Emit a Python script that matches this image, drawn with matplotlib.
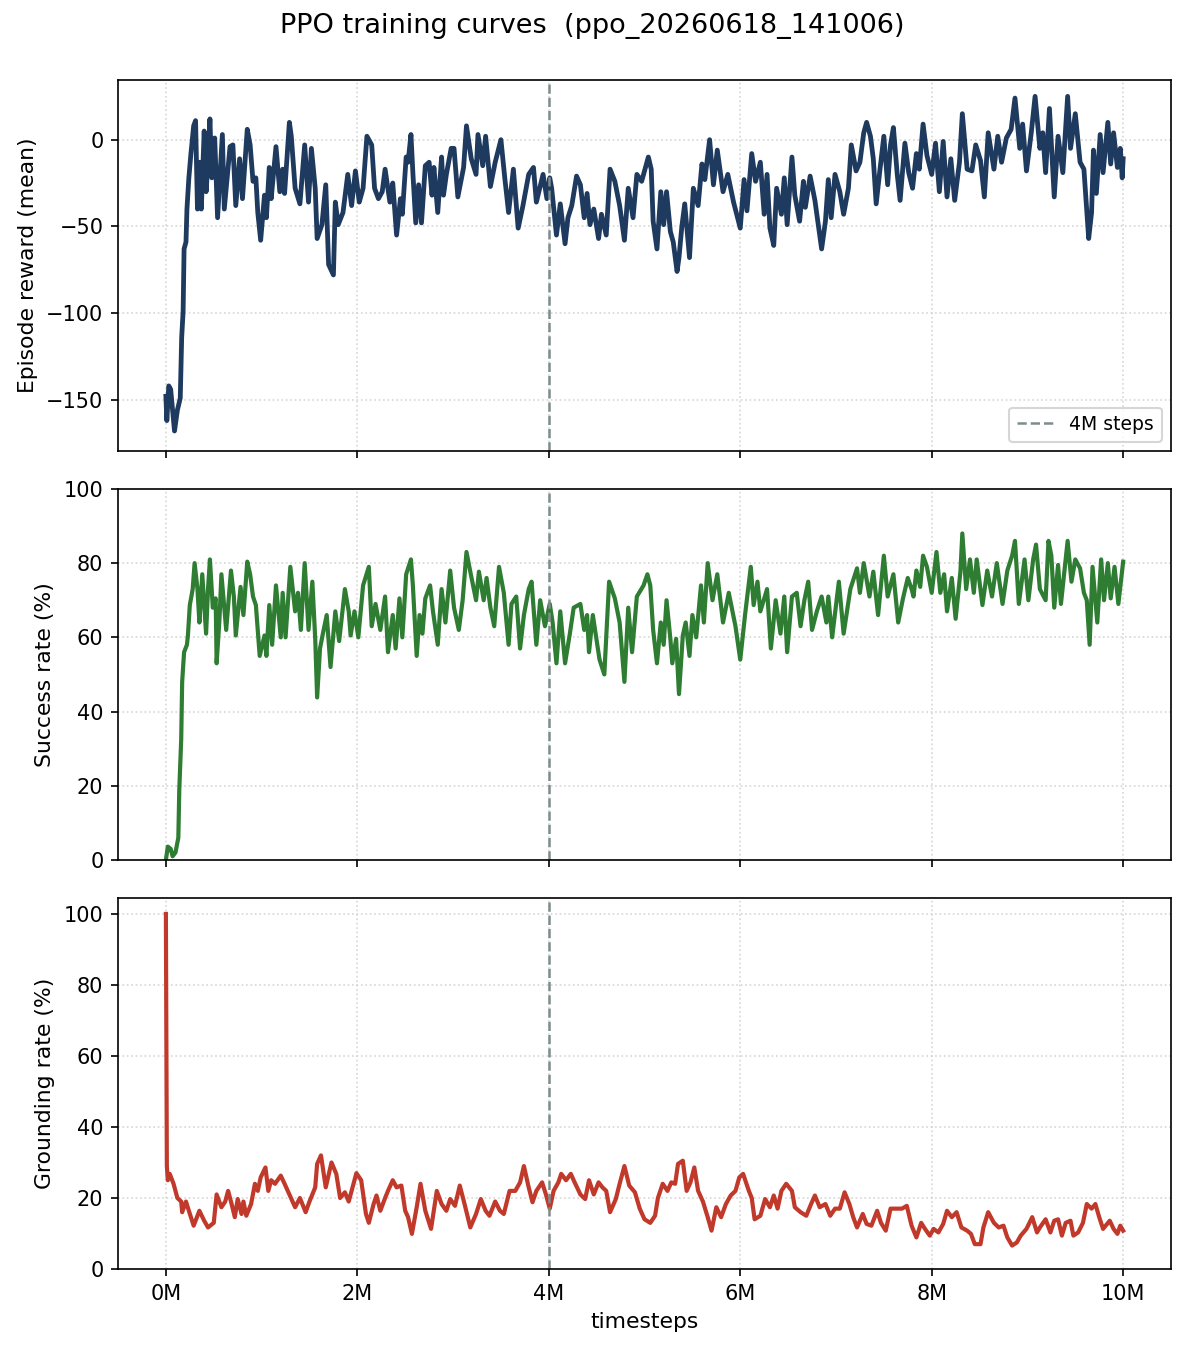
import matplotlib
matplotlib.use("Agg")
import matplotlib.pyplot as plt
from matplotlib.ticker import FuncFormatter

# ---- data (timesteps in millions) ----
reward_t = [0.00, 0.01, 0.03, 0.05, 0.09, 0.12, 0.15, 0.165, 0.18, 0.19, 0.21, 0.22, 0.24, 0.26, 0.29, 0.31,
            0.33, 0.35, 0.37, 0.40, 0.42, 0.44, 0.46, 0.48, 0.51, 0.54, 0.59, 0.61, 0.64, 0.67, 0.70, 0.73,
            0.77, 0.80, 0.85, 0.88, 0.91, 0.94, 0.96, 0.99, 1.03, 1.05, 1.08, 1.10, 1.15, 1.19, 1.22, 1.24,
            1.29, 1.31, 1.35, 1.40, 1.45, 1.49, 1.52, 1.56, 1.58, 1.63, 1.67, 1.70, 1.75, 1.77, 1.80, 1.85,
            1.90, 1.94, 1.98, 2.02, 2.06, 2.10, 2.15, 2.18, 2.22, 2.26, 2.29, 2.34, 2.37, 2.41, 2.45, 2.47,
            2.51, 2.53, 2.56, 2.58, 2.61, 2.64, 2.67, 2.71, 2.75, 2.78, 2.80, 2.84, 2.88, 2.90, 2.93, 2.98,
            3.01, 3.05, 3.11, 3.14, 3.19, 3.24, 3.26, 3.31, 3.34, 3.39, 3.44, 3.50, 3.54, 3.58, 3.63, 3.68,
            3.73, 3.79, 3.84, 3.87, 3.94, 3.98, 4.01, 4.03, 4.08, 4.12, 4.17, 4.20, 4.24, 4.29, 4.33, 4.37,
            4.40, 4.43, 4.47, 4.52, 4.55, 4.60, 4.64, 4.69, 4.74, 4.79, 4.83, 4.88, 4.92, 4.97, 5.04, 5.07,
            5.09, 5.13, 5.17, 5.20, 5.23, 5.27, 5.30, 5.34, 5.36, 5.39, 5.42, 5.47, 5.51, 5.56, 5.60, 5.63,
            5.68, 5.72, 5.76, 5.82, 5.87, 5.93, 6.00, 6.04, 6.07, 6.12, 6.16, 6.21, 6.25, 6.28, 6.31, 6.35,
            6.38, 6.43, 6.46, 6.49, 6.54, 6.57, 6.62, 6.66, 6.68, 6.73, 6.78, 6.85, 6.89, 6.92, 6.95, 6.99,
            7.04, 7.08, 7.13, 7.16, 7.21, 7.25, 7.29, 7.32, 7.36, 7.39, 7.42, 7.46, 7.50, 7.54, 7.57, 7.60,
            7.64, 7.67, 7.72, 7.76, 7.80, 7.84, 7.87, 7.91, 7.95, 8.00, 8.04, 8.08, 8.12, 8.16, 8.20, 8.24,
            8.29, 8.32, 8.37, 8.42, 8.46, 8.51, 8.55, 8.59, 8.65, 8.69, 8.73, 8.78, 8.83, 8.87, 8.92, 8.95,
            8.99, 9.04, 9.08, 9.13, 9.16, 9.19, 9.23, 9.28, 9.32, 9.37, 9.42, 9.45, 9.50, 9.55, 9.59, 9.64,
            9.67, 9.69, 9.72, 9.76, 9.79, 9.84, 9.87, 9.90, 9.94, 9.97, 9.99, 10.00]
reward_v = [-148, -162, -142, -144, -168, -156, -149, -114, -99, -63, -59, -40, -22, -9, 8, 11,
            -40, -13, -40, 5, -30, -13, 12, -22, 1, -45, 3, -40, -22, -4, -3, -38,
            -11, -34, 6, -3, -24, -22, -42, -58, -32, -45, -16, -34, -4, -30, -17, -31,
            10, 2, -28, -37, -3, -36, -5, -28, -57, -49, -26, -72, -78, -36, -49, -42,
            -20, -38, -18, -36, -28, 2, -3, -28, -34, -30, -17, -36, -25, -55, -34, -43,
            -10, -13, 3, -19, -48, -26, -48, -15, -13, -32, -16, -42, -10, -32, -20, -5,
            -5, -33, -16, 8, -11, -20, 3, -15, 2, -27, -13, 0, -22, -42, -17, -51,
            -38, -20, -16, -36, -20, -34, -22, -28, -55, -37, -60, -45, -38, -21, -26, -45,
            -31, -49, -40, -57, -43, -55, -17, -24, -38, -58, -28, -45, -20, -24, -10, -17,
            -47, -63, -30, -49, -30, -53, -59, -76, -68, -50, -37, -68, -28, -38, -14, -23,
            0, -26, -6, -30, -20, -36, -51, -23, -41, -8, -24, -13, -43, -20, -51, -61,
            -28, -43, -22, -49, -10, -32, -47, -24, -39, -21, -35, -63, -47, -23, -45, -20,
            -30, -43, -28, -3, -18, -13, 4, 10, 2, -11, -37, -17, 2, -26, -3, 7,
            -20, -35, -2, -19, -28, -8, -17, 9, -9, -20, -2, -30, -1, -33, -11, -35,
            -13, 15, -17, -18, -3, -12, -33, 4, -17, 2, -13, 1, 6, 24, -5, 9,
            -18, 4, 25, -5, 4, -19, 18, -33, 2, -19, 25, -5, 15, -13, -17, -57,
            -42, -6, -31, 3, -19, 10, -14, 4, -16, -5, -22, -11]

success_t = [0.00, 0.02, 0.05, 0.07, 0.10, 0.13, 0.14, 0.16, 0.17, 0.19, 0.22, 0.23, 0.25, 0.28, 0.30, 0.33,
             0.35, 0.38, 0.42, 0.44, 0.46, 0.49, 0.52, 0.53, 0.56, 0.58, 0.63, 0.68, 0.71, 0.73, 0.78, 0.81,
             0.85, 0.88, 0.91, 0.94, 0.98, 1.03, 1.05, 1.08, 1.11, 1.15, 1.20, 1.22, 1.25, 1.30, 1.35, 1.38,
             1.41, 1.45, 1.49, 1.53, 1.56, 1.58, 1.61, 1.64, 1.68, 1.72, 1.77, 1.81, 1.87, 1.91, 1.93, 1.97,
             2.01, 2.06, 2.12, 2.15, 2.19, 2.24, 2.29, 2.32, 2.37, 2.40, 2.44, 2.47, 2.51, 2.56, 2.58, 2.62,
             2.65, 2.68, 2.71, 2.76, 2.79, 2.84, 2.88, 2.92, 2.97, 3.01, 3.06, 3.10, 3.14, 3.18, 3.24, 3.27,
             3.32, 3.35, 3.39, 3.43, 3.48, 3.53, 3.58, 3.61, 3.66, 3.70, 3.74, 3.79, 3.82, 3.87, 3.91, 3.96,
             4.01, 4.04, 4.08, 4.12, 4.17, 4.22, 4.26, 4.33, 4.37, 4.40, 4.42, 4.46, 4.53, 4.58, 4.63, 4.69,
             4.74, 4.79, 4.83, 4.87, 4.92, 4.99, 5.03, 5.06, 5.09, 5.13, 5.17, 5.20, 5.23, 5.27, 5.29, 5.33,
             5.36, 5.40, 5.43, 5.47, 5.50, 5.54, 5.59, 5.62, 5.66, 5.71, 5.76, 5.82, 5.88, 5.95, 6.00, 6.05,
             6.11, 6.14, 6.18, 6.21, 6.28, 6.32, 6.37, 6.42, 6.46, 6.49, 6.54, 6.59, 6.63, 6.67, 6.71, 6.75,
             6.80, 6.85, 6.90, 6.92, 6.96, 7.03, 7.08, 7.15, 7.22, 7.25, 7.29, 7.35, 7.39, 7.44, 7.50, 7.54,
             7.60, 7.65, 7.70, 7.75, 7.79, 7.81, 7.84, 7.88, 7.91, 7.95, 8.00, 8.05, 8.09, 8.13, 8.16, 8.21,
             8.25, 8.30, 8.32, 8.36, 8.40, 8.44, 8.47, 8.53, 8.58, 8.63, 8.68, 8.74, 8.79, 8.84, 8.87, 8.91,
             8.97, 9.01, 9.06, 9.09, 9.13, 9.19, 9.22, 9.25, 9.28, 9.32, 9.35, 9.42, 9.46, 9.50, 9.55, 9.59,
             9.62, 9.65, 9.68, 9.73, 9.77, 9.80, 9.84, 9.87, 9.91, 9.95, 9.98, 10.00]
success_v = [0, 3.6, 3, 1, 2, 6, 19, 32.5, 48, 56, 58, 60.5, 68.7, 73, 80, 73,
             64, 77, 61, 73, 81, 68, 70.5, 53, 65, 77, 62, 78, 71, 60.5, 73.6, 66,
             80.4, 77, 71, 68.7, 55, 60.5, 55, 68.7, 58, 74, 60, 72, 60, 79, 67, 72,
             62, 80, 62, 75, 59.6, 43.8, 57, 61, 66, 52, 67, 59, 73, 67, 60.5, 67,
             60, 74, 79, 63, 69, 62, 71, 56, 66, 57, 70.5, 60, 77, 81, 74, 55,
             66, 61, 70.5, 74, 67, 58, 73, 64, 78, 68, 62, 70, 83, 77.7, 70, 77.7,
             70, 76, 68, 63, 79, 72, 58, 69, 71, 57, 66, 73, 75, 58, 70, 63,
             69, 64, 53, 67, 53, 61, 68, 69, 62, 66, 56, 66, 54, 50, 75, 70.5,
             64, 48, 68, 56, 71, 74, 77, 74, 62, 53, 64, 58, 70, 59.6, 53, 59.6,
             44.7, 60.5, 64, 55, 66, 60, 74, 64, 80, 70, 77, 64, 72, 63, 54, 66,
             79, 68.7, 75, 67, 73, 57, 70, 61, 71, 56, 71, 72, 63, 70, 75, 62,
             67, 71, 64, 71, 60, 75, 61, 73, 78.6, 72, 80, 71, 77.7, 66, 82, 71,
             77, 64, 70.5, 76, 73, 71, 78, 73.6, 82, 79, 72, 83, 72, 77, 67, 76,
             65, 77.7, 88, 73, 81, 72, 81, 68.7, 78, 71, 80, 69, 78, 82, 86, 69,
             81, 70, 81, 85, 73, 70, 86, 82, 68, 79.5, 69, 86, 75, 81, 78.6, 72,
             70, 58, 79, 64, 81, 70, 80, 70.5, 79, 69, 76, 80.4]

ground_t = [0.00, 0.01, 0.02, 0.04, 0.08, 0.12, 0.16, 0.17, 0.21, 0.24, 0.29, 0.35, 0.40, 0.44, 0.50, 0.53,
            0.58, 0.62, 0.65, 0.68, 0.72, 0.75, 0.79, 0.81, 0.84, 0.89, 0.93, 0.96, 0.99, 1.04, 1.07, 1.10,
            1.14, 1.20, 1.24, 1.29, 1.35, 1.40, 1.46, 1.50, 1.56, 1.58, 1.62, 1.67, 1.73, 1.78, 1.82, 1.87,
            1.91, 1.94, 1.99, 2.04, 2.09, 2.12, 2.17, 2.20, 2.24, 2.29, 2.32, 2.37, 2.41, 2.46, 2.50, 2.53,
            2.57, 2.62, 2.66, 2.71, 2.77, 2.83, 2.88, 2.93, 2.97, 3.02, 3.07, 3.12, 3.18, 3.24, 3.29, 3.34,
            3.38, 3.44, 3.49, 3.53, 3.59, 3.65, 3.70, 3.74, 3.79, 3.83, 3.87, 3.93, 3.97, 4.01, 4.05, 4.10,
            4.13, 4.18, 4.23, 4.27, 4.33, 4.38, 4.42, 4.47, 4.52, 4.56, 4.60, 4.64, 4.70, 4.74, 4.79, 4.84,
            4.90, 4.95, 5.00, 5.06, 5.11, 5.14, 5.19, 5.24, 5.28, 5.32, 5.35, 5.40, 5.44, 5.48, 5.52, 5.56,
            5.61, 5.66, 5.70, 5.75, 5.80, 5.85, 5.90, 5.95, 5.99, 6.03, 6.09, 6.12, 6.15, 6.21, 6.26, 6.31,
            6.35, 6.39, 6.43, 6.48, 6.54, 6.57, 6.63, 6.69, 6.74, 6.78, 6.83, 6.89, 6.94, 6.99, 7.04, 7.09,
            7.14, 7.18, 7.22, 7.28, 7.32, 7.37, 7.43, 7.47, 7.52, 7.57, 7.63, 7.69, 7.74, 7.79, 7.84, 7.89,
            7.93, 7.98, 8.02, 8.07, 8.12, 8.16, 8.21, 8.26, 8.31, 8.37, 8.41, 8.45, 8.51, 8.54, 8.59, 8.65,
            8.70, 8.75, 8.79, 8.84, 8.89, 8.93, 8.99, 9.05, 9.10, 9.13, 9.19, 9.24, 9.28, 9.32, 9.36, 9.40,
            9.45, 9.48, 9.53, 9.58, 9.62, 9.67, 9.71, 9.75, 9.79, 9.86, 9.90, 9.94, 9.97, 10.00]
ground_v = [100, 29, 25, 26.8, 24, 20, 19, 16, 19, 16.4, 12.2, 16.4, 13.6, 11.7, 13, 21,
            17.4, 19, 22, 19, 14.6, 19.7, 15.5, 19, 15, 18.3, 24, 22, 25.8, 28.6, 22, 25,
            24, 26.3, 24, 21, 17.4, 20, 16, 19, 23, 29.6, 32, 23, 30, 26.8, 20, 21.6,
            19, 22, 27, 25, 15.5, 13, 18.3, 20.7, 16.4, 20, 22, 25, 23, 23.5, 16.4, 14.6,
            9.9, 17.4, 24, 16.4, 11.3, 22, 18.3, 16.4, 19.7, 17.8, 23.5, 18.3, 11.7, 15.5, 19.7, 16.4,
            15, 19, 16.4, 15.5, 22, 22, 24.4, 29, 23, 18.8, 22, 24.4, 21, 17, 22, 24.4,
            26.8, 25, 26.8, 24.4, 21, 19.7, 25, 21, 24.4, 23, 22, 16, 19.7, 24, 29, 23.5,
            21.6, 17, 14, 13, 15, 20, 24, 22, 24.4, 24, 29.6, 30.5, 22, 24.4, 28.6, 22,
            19, 14.6, 10.8, 17.4, 14.6, 18.3, 20.7, 22, 25.8, 26.8, 22, 20, 14, 15, 19.7, 17.4,
            20.7, 17, 22, 24, 22, 17.4, 16, 15, 18.3, 20.7, 17.4, 18.3, 15, 17, 17, 21.6,
            18.3, 14.6, 11.7, 15.5, 12.7, 12.2, 16.4, 13, 10.8, 17, 17, 17, 17.8, 12.2, 8.9, 13,
            11.3, 9.4, 11.3, 10.3, 12.7, 16.4, 14.6, 16, 11.7, 10.8, 9.9, 7, 7, 11.7, 16, 13,
            11.7, 12.2, 8.9, 6.6, 7.5, 9.4, 11.3, 14.6, 10.3, 11.7, 14, 10.3, 13.6, 14, 9.4, 13,
            13.6, 9.4, 10.3, 13, 18.3, 17, 18.3, 14.6, 11.3, 13.6, 11.3, 9.9, 12.2, 10.8]

marker_step = 4.0
tick_positions = [0, 2, 4, 6, 8, 10]

fig, axes = plt.subplots(3, 1, sharex=True, figsize=(7.9, 8.987), dpi=150)
fig.subplots_adjust(left=0.0996, right=0.9882, top=0.9407, bottom=0.0586, hspace=0.1024)

series = [
    (reward_t, reward_v, "#1f3a5f", 2.3, "Episode reward (mean)"),
    (success_t, success_v, "#2e7d32", 2.0, "Success rate (%)"),
    (ground_t, ground_v, "#c0392b", 2.0, "Grounding rate (%)"),
]

for ax, (t, v, c, lw, lab) in zip(axes, series):
    ax.plot(t, v, color=c, linewidth=lw)
    ax.axvline(marker_step, color="#7f8c8d", linestyle="--", linewidth=1.2, label="4M steps")
    ax.set_ylabel(lab, fontsize=10.5)
    ax.grid(True, linestyle=":", color="#cccccc", linewidth=0.8, alpha=0.8)

axes[0].legend(loc="lower right", fontsize=9)
axes[1].set_ylim(0, 100)
axes[2].set_ylim(0, 104.5)
axes[0].set_ylim(-179.5, 34.5)
axes[2].set_xlim(-0.5, 10.5)
axes[2].set_xticks(tick_positions)
axes[2].xaxis.set_major_formatter(FuncFormatter(lambda x, p: f"{x:.0f}M"))
axes[2].set_xlabel("timesteps", fontsize=10.5)

fig.suptitle("PPO training curves  (ppo_20260618_141006)", fontsize=13, y=0.99)

fig.savefig("out.png", dpi=150)
